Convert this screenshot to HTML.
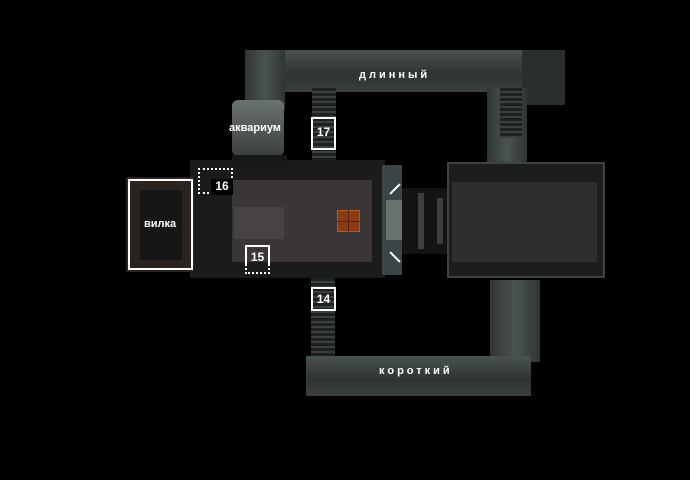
<!DOCTYPE html>
<html><head><meta charset="utf-8"><style>
body{margin:0;background:#000;width:690px;height:480px;overflow:hidden;position:relative;font-family:"Liberation Sans",sans-serif}
div{position:absolute;box-sizing:border-box}
.c{background:linear-gradient(#4a524d,#2e3431 60%,#3a403c)}
.v{background:linear-gradient(90deg,#2f3533,#4b5350,#2f3533)}
.st{background:repeating-linear-gradient(#1d2120 0 3px,#3a403e 3px 5px)}
.lbl{color:#fff;font-weight:bold;font-size:11px;white-space:nowrap}
.box{border:2px solid #fff;color:#fff;font-weight:bold;font-size:12px;text-align:center}
.dot{border:2px dotted #fff}
</style></head><body>
<!-- top corridor -->
<div class="c" style="left:245px;top:50px;width:320px;height:42px"></div>
<div class="v" style="left:245px;top:50px;width:40px;height:60px"></div>
<div style="left:232px;top:100px;width:52px;height:56px;background:linear-gradient(#6a726e,#3b403e);border-radius:6px"></div>
<div style="left:522px;top:50px;width:43px;height:55px;background:#2a2f2d"></div>
<div class="v" style="left:487px;top:88px;width:40px;height:75px"></div>
<div class="st" style="left:312px;top:88px;width:24px;height:74px"></div>
<div class="st" style="left:500px;top:88px;width:22px;height:50px"></div>
<!-- left room -->
<div style="left:190px;top:160px;width:195px;height:118px;background:#1c1b1c"></div>
<div style="left:232px;top:155px;width:55px;height:12px;background:#181818"></div>
<div style="left:232px;top:180px;width:140px;height:82px;background:#3a3638"></div>
<div style="left:234px;top:207px;width:50px;height:32px;background:#474345"></div>
<div style="left:337px;top:210px;width:23px;height:22px;background:#8a3a14;border:1px solid #b25a20"></div>
<div style="left:348px;top:210px;width:1px;height:22px;background:#5a2408"></div>
<div style="left:337px;top:221px;width:23px;height:1px;background:#5a2408"></div>
<!-- bridge -->
<div style="left:382px;top:165px;width:20px;height:110px;background:#3c4546"></div>
<div style="left:386px;top:200px;width:16px;height:40px;background:#6a7270"></div>
<div style="left:402px;top:188px;width:50px;height:66px;background:#141414"></div>
<div style="left:418px;top:193px;width:6px;height:56px;background:#3c3f3e"></div>
<div style="left:437px;top:198px;width:6px;height:46px;background:#3c3f3e"></div>
<div style="left:388px;top:188px;width:14px;height:2px;background:#fff;transform:rotate(-45deg)"></div>
<div style="left:388px;top:256px;width:14px;height:2px;background:#fff;transform:rotate(45deg)"></div>
<!-- right room -->
<div style="left:447px;top:162px;width:158px;height:116px;background:#1e1d1e;border:2px solid #3f4442"></div>
<div style="left:452px;top:182px;width:145px;height:80px;background:#302d2f"></div>
<!-- bottom -->
<div class="st" style="left:311px;top:278px;width:24px;height:80px"></div>
<div class="v" style="left:490px;top:280px;width:50px;height:82px"></div>
<div class="c" style="left:306px;top:356px;width:225px;height:40px"></div>
<!-- вилка -->
<div style="left:126px;top:177px;width:68px;height:95px;background:#2b2320"></div>
<div style="left:140px;top:190px;width:42px;height:70px;background:#161616"></div>
<div class="box" style="left:128px;top:179px;width:65px;height:91px"></div>
<div class="lbl" style="left:144px;top:218px">вилка</div>
<!-- markers -->
<div class="dot" style="left:198px;top:168px;width:35px;height:26px"></div>
<div class="box" style="left:211px;top:179px;width:22px;height:16px;border:none;background:#000;font-size:12px">16</div>
<div class="box" style="left:311px;top:117px;width:25px;height:33px;padding-top:6px">17</div>
<div class="box" style="left:311px;top:287px;width:25px;height:24px;padding-top:3px">14</div>
<div class="dot" style="left:245px;top:245px;width:25px;height:29px"></div>
<div class="box" style="left:245px;top:245px;width:25px;height:20px;border:none;border-top:2px solid #fff;border-left:2px solid #fff;border-right:2px solid #fff;padding-top:3px">15</div>
<div class="lbl" style="left:229px;top:122px">аквариум</div>
<div class="lbl" style="left:359px;top:69px;letter-spacing:3px">длинный</div>
<div class="lbl" style="left:379px;top:365px;letter-spacing:3px">короткий</div>
</body></html>
